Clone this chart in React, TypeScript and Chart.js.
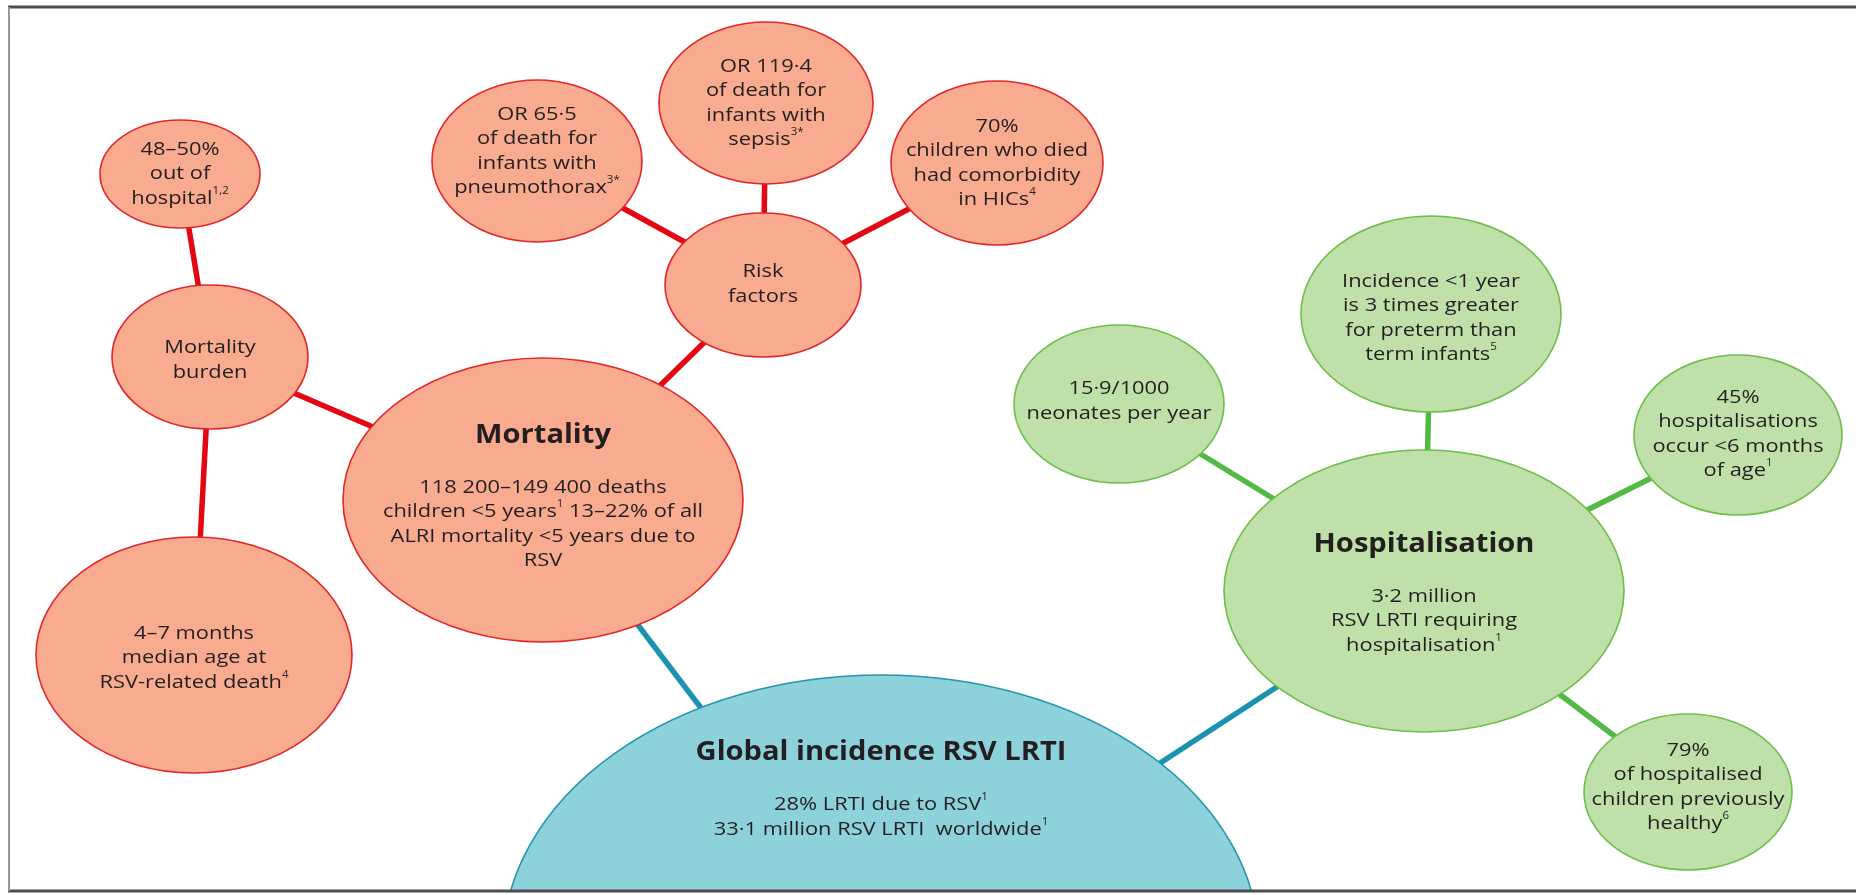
import React, { useEffect, useRef } from "react";
import { Chart, registerables } from "chart.js";
Chart.register(...registerables);

// ---------- content ----------
const nodeIds = [
  "global", "mortality", "burden", "outHospital", "medianAge", "risk", "or65",
  "or119", "comorb", "hosp", "neonates", "incidence", "under6m", "healthy",
];
const nodeGroup = [
  "global", "mortality", "mortality", "mortality", "mortality", "mortality", "mortality",
  "mortality", "mortality", "hosp", "hosp", "hosp", "hosp", "hosp",
];
const nodeTitles = [
  "Global incidence RSV LRTI", "Mortality", "", "", "", "", "", "", "", "Hospitalisation", "", "", "", "",
];
const nodeLines: string[][] = [
  ["28% LRTI due to RSV^1", "33·1 million RSV LRTI  worldwide^1"],
  ["118 200–149 400 deaths", "children <5 years^1^ 13–22% of all", "ALRI mortality <5 years due to", "RSV"],
  ["Mortality", "burden"],
  ["48–50%", "out of", "hospital^1,2"],
  ["4–7 months", "median age at", "RSV-related death^4"],
  ["Risk", "factors"],
  ["OR 65·5", "of death for", "infants with", "pneumothorax^3*"],
  ["OR 119·4", "of death for", "infants with", "sepsis^3*"],
  ["70%", "children who died", "had comorbidity", "in HICs^4"],
  ["3·2 million", "RSV LRTI requiring", "hospitalisation^1"],
  ["15·9/1000", "neonates per year"],
  ["Incidence <1 year", "is 3 times greater", "for preterm than", "term infants^5"],
  ["45%", "hospitalisations", "occur <6 months", "of age^1"],
  ["79%", "of hospitalised", "children previously", "healthy^6"],
];
const edgeFrom = ["global", "global", "mortality", "mortality", "burden", "burden", "risk", "risk", "risk", "hosp", "hosp", "hosp", "hosp"];
const edgeTo = ["mortality", "hosp", "burden", "risk", "outHospital", "medianAge", "or65", "or119", "comorb", "neonates", "incidence", "under6m", "healthy"];

// ---------- layout (diagram units) ----------
const nodeX = [881, 543, 210, 180, 194, 763, 537, 766, 997, 1424, 1119, 1431, 1738, 1688];
const nodeY = [945, 500, 357, 174, 655, 285, 161, 103, 163, 591, 404, 314, 435, 792];
const nodeRx = [378, 200, 98, 80, 158, 98, 105, 107, 106, 200, 105, 130, 104, 104];
const nodeRy = [270, 142, 72, 54, 118, 72, 81, 81, 82, 141, 79, 98, 80, 78];
const textDy = [-154, -2, 3, 0, 3, -1, -10, 0, 0, 4, -3, 4, -1, -5];

const W = 1856;
const H = 895;
const FRAME_L = 9;
const FRAME_T = 7;
const FRAME_B = 891;
const FONT = "'Open Sans', 'Noto Sans', sans-serif";

const fillColor: Record<string, string> = { global: "#8dd1db", mortality: "#f9ab8f", hosp: "#bfe0a9" };
const strokeColor: Record<string, string> = { global: "#2596b2", mortality: "#e3262b", hosp: "#6dbe4b" };
const edgeColor: Record<string, string> = { global: "#1b93b0", mortality: "#e30613", hosp: "#52b944" };

function drawRich(ctx: CanvasRenderingContext2D, text: string, x: number, y: number, size: number, weight: string, sx: number) {
  const parts = text.split("^");
  const nf = `${weight} ${size}px ${FONT}`;
  const sf = `${weight} ${Math.round(size * 0.55)}px ${FONT}`;
  let total = 0;
  parts.forEach((p, k) => {
    ctx.font = k % 2 ? sf : nf;
    total += ctx.measureText(p).width;
  });
  ctx.save();
  ctx.translate(x, y);
  ctx.scale(sx, 1);
  let cx = -total / 2;
  ctx.textAlign = "left";
  ctx.textBaseline = "middle";
  parts.forEach((p, k) => {
    ctx.font = k % 2 ? sf : nf;
    ctx.fillText(p, cx, k % 2 ? -size * 0.38 : 0);
    cx += ctx.measureText(p).width;
  });
  ctx.restore();
}

const mindmapPlugin = {
  id: "mindmap",
  afterDatasetsDraw(chart: any) {
    const ctx: CanvasRenderingContext2D = chart.ctx;
    const xs = chart.scales.x;
    const ys = chart.scales.y;
    const meta = chart.getDatasetMeta(chart.data.datasets.length - 1);
    ctx.save();
    ctx.beginPath();
    ctx.rect(
      xs.getPixelForValue(FRAME_L), ys.getPixelForValue(FRAME_T),
      xs.getPixelForValue(W) - xs.getPixelForValue(FRAME_L),
      ys.getPixelForValue(FRAME_B) - ys.getPixelForValue(FRAME_T)
    );
    ctx.clip();
    nodeIds.forEach((id, i) => {
      const el = meta.data[i];
      const cx = el.x;
      const cy = el.y;
      const rx = Math.abs(xs.getPixelForValue(nodeX[i] + nodeRx[i]) - cx);
      const ry = Math.abs(ys.getPixelForValue(nodeY[i] + nodeRy[i]) - cy);
      ctx.beginPath();
      ctx.ellipse(cx, cy, rx, ry, 0, 0, Math.PI * 2);
      ctx.fillStyle = fillColor[nodeGroup[i]];
      ctx.fill();
      ctx.lineWidth = 1.6;
      ctx.strokeStyle = strokeColor[nodeGroup[i]];
      ctx.stroke();
    });
    ctx.fillStyle = "#231f20";
    nodeIds.forEach((id, i) => {
      const el = meta.data[i];
      const cx = el.x;
      const lines = nodeLines[i];
      const title = nodeTitles[i];
      const lh = 24.5;
      const gap = 52;
      const blockH = (title ? gap : 0) + (lines.length - 1) * lh;
      let y = el.y + textDy[i] - blockH / 2;
      if (title) {
        drawRich(ctx, title, cx, y, 26, "bold", 1.12);
        y += gap;
      }
      lines.forEach((ln) => {
        drawRich(ctx, ln, cx, y, 19, "normal", 1.15);
        y += lh;
      });
    });
    ctx.restore();
  },
  afterDraw(chart: any) {
    const ctx: CanvasRenderingContext2D = chart.ctx;
    const xs = chart.scales.x;
    const ys = chart.scales.y;
    ctx.save();
    // blank margins outside the frame
    ctx.fillStyle = "#ffffff";
    ctx.fillRect(0, ys.getPixelForValue(FRAME_B), chart.width, chart.height - ys.getPixelForValue(FRAME_B));
    ctx.fillRect(0, 0, chart.width, ys.getPixelForValue(FRAME_T));
    ctx.fillRect(0, 0, xs.getPixelForValue(FRAME_L), chart.height);
    ctx.strokeStyle = "#4d4d4d";
    ctx.lineWidth = 3;
    ctx.beginPath();
    ctx.moveTo(xs.getPixelForValue(FRAME_L - 1), ys.getPixelForValue(FRAME_T));
    ctx.lineTo(xs.getPixelForValue(W), ys.getPixelForValue(FRAME_T));
    ctx.moveTo(xs.getPixelForValue(FRAME_L - 1), ys.getPixelForValue(FRAME_B));
    ctx.lineTo(xs.getPixelForValue(W), ys.getPixelForValue(FRAME_B));
    ctx.stroke();
    ctx.strokeStyle = "#9a9a9a";
    ctx.lineWidth = 2;
    ctx.beginPath();
    ctx.moveTo(xs.getPixelForValue(FRAME_L), ys.getPixelForValue(FRAME_T));
    ctx.lineTo(xs.getPixelForValue(FRAME_L), ys.getPixelForValue(FRAME_B));
    ctx.stroke();
    ctx.restore();
  },
};

export default function App() {
  const ref = useRef<HTMLCanvasElement | null>(null);
  useEffect(() => {
    if (!ref.current) return;
    const idx = (id: string) => nodeIds.indexOf(id);
    const edgeSets = edgeFrom.map((f, k) => {
      const a = idx(f);
      const b = idx(edgeTo[k]);
      const grp = f === "global" ? "global" : nodeGroup[b];
      return {
        type: "line" as const,
        data: [
          { x: nodeX[a], y: nodeY[a] },
          { x: nodeX[b], y: nodeY[b] },
        ],
        borderColor: edgeColor[grp],
        borderWidth: 5.5,
        pointRadius: 0,
        showLine: true,
        fill: false,
      };
    });
    const chart = new Chart(ref.current, {
      type: "scatter",
      data: {
        datasets: [
          ...edgeSets,
          {
            type: "scatter" as const,
            data: nodeIds.map((_, i) => ({ x: nodeX[i], y: nodeY[i] })),
            pointRadius: 0,
            backgroundColor: "transparent",
          },
        ] as any,
      },
      options: {
        animation: false,
        responsive: true,
        maintainAspectRatio: false,
        layout: { padding: 0 },
        plugins: { legend: { display: false }, tooltip: { enabled: false } },
        scales: {
          x: { type: "linear", min: 0, max: W, display: false },
          y: { type: "linear", min: 0, max: H, reverse: true, display: false },
        },
      },
      plugins: [mindmapPlugin],
    });
    return () => chart.destroy();
  }, []);
  return (
    <div style={{ position: "absolute", left: 0, top: 0, width: W, height: H, background: "#fff" }}>
      <canvas ref={ref} />
    </div>
  );
}
